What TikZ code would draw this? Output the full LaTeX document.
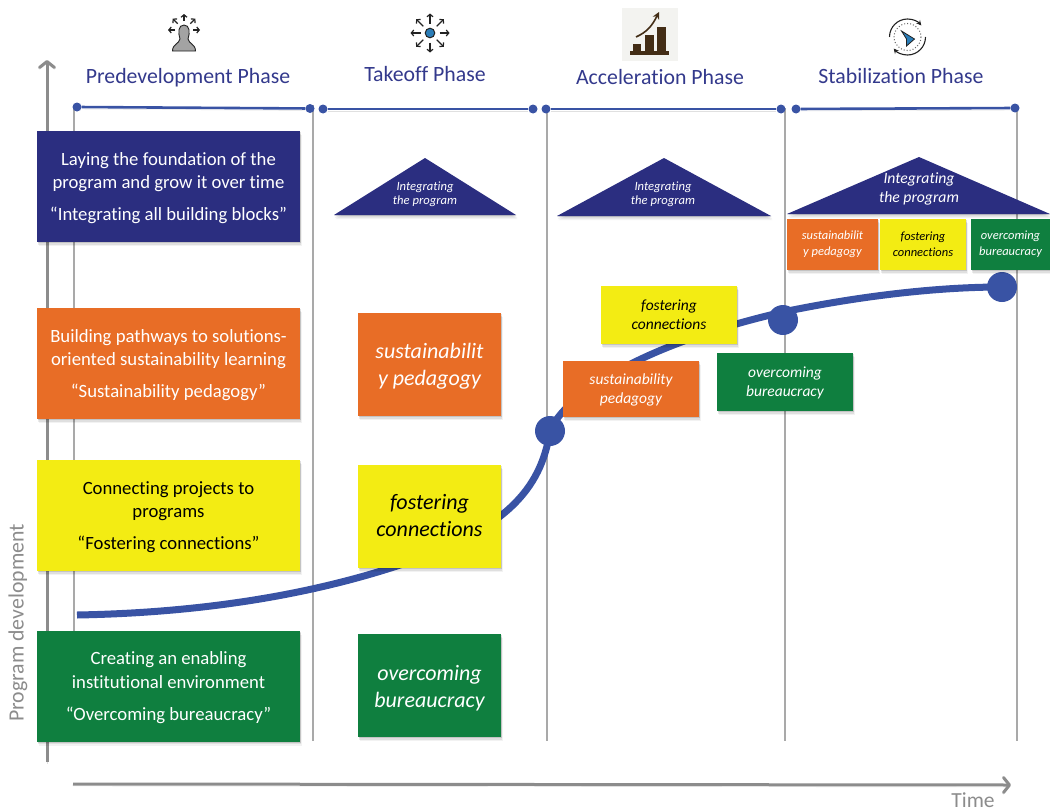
\documentclass[tikz,border=0pt]{standalone}
\usepackage{fontspec}
\setmainfont[Ligatures=CommonOff]{Carlito}
\usetikzlibrary{shadows,arrows.meta}
\definecolor{navy}{HTML}{2B2E80}
\definecolor{orng}{HTML}{E86D26}
\definecolor{yell}{HTML}{F3EC13}
\definecolor{grn}{HTML}{0F7F3F}
\definecolor{blu}{HTML}{3953A4}
\definecolor{phase}{HTML}{33398C}
\definecolor{gry}{HTML}{8C8C8C}
\definecolor{ink}{HTML}{222222}
\definecolor{sky}{HTML}{2A7DB8}
\newcommand\hgt[1]{\rule{0pt}{#1pt}}
\newcommand\dpt[1]{\rule[-#1pt]{0pt}{#1pt}}
\tikzset{
 soft/.style={
   drop shadow={shadow xshift=0.5pt,shadow yshift=-1pt,opacity=.12,fill=black},
   drop shadow={shadow xshift=1pt,shadow yshift=-2.5pt,opacity=.08,fill=black},
   drop shadow={shadow xshift=1.5pt,shadow yshift=-4pt,opacity=.05,fill=black}},
 lineshadow/.style={preaction={draw=black,opacity=.12,transform canvas={yshift=-2pt}}},
 boxbase/.style={rectangle,inner sep=0pt,outer sep=0pt,align=center,soft},
 leftbox/.style={boxbase,minimum width=263pt,minimum height=111pt,font=\fontsize{18.7}{23.5}\selectfont},
 midbox/.style={boxbase,minimum width=143pt,minimum height=103pt,font=\fontsize{22}{27}\selectfont\itshape},
 accbox/.style={boxbase,minimum width=136pt,minimum height=58pt,font=\fontsize{15.5}{19}\selectfont\itshape},
 stabox/.style={boxbase,minimum height=51pt,font=\fontsize{12.5}{16}\selectfont\itshape},
 navybox/.style={fill=navy,text=white},
 orangebox/.style={fill=orng,text=white},
 yellowbox/.style={fill=yell,text=black},
 greenbox/.style={fill=grn,text=white},
 phasetitle/.style={text=phase,font=\fontsize{21.8}{24}\selectfont,inner sep=0pt},
 dot/.style={circle,fill=blu,inner sep=0pt,minimum size=#1},
 guide/.style={draw=gry!75,line width=1.3pt},
 axis/.style={draw=gry,line width=3pt,-{Straight Barb[length=6pt,width=15pt,round]},lineshadow},
 phaseline/.style={draw=blu,line width=2.6pt,lineshadow},
 roof/.style={fill=navy,soft},
 rooftext/.style={text=white,align=center,inner sep=0pt,font=\itshape},
 iconarrow/.style={draw=ink,line width=1.2pt,-{Straight Barb[length=2.5pt,width=6pt]}},
}
\begin{document}
\begin{tikzpicture}[x=1pt,y=-1pt]
\useasboundingbox (0,0) rectangle (1050,811);
% guides
\foreach \n/\x/\a in {g0/74/108,g1/313/105,g2/547/108,g3/785/108,g4/1017/108}{
  \coordinate (\n t) at (\x,\a);
  \coordinate (\n b) at (\x,741);
  \draw[guide] (\n t) -- (\n b);
}
% axes
\coordinate (yfoot) at (47,762); \coordinate (yhead) at (47,60);
\coordinate (xfoot) at (73,784); \coordinate (xhead) at (1011,785);
\draw[axis] (yfoot) -- (yhead);
\draw[axis] (xfoot) -- (xhead);
\node[rotate=90,text=gry,font=\fontsize{21.8}{24}\selectfont,inner sep=0pt] (ylabel) at (18,623) {Program development};
\node[text=gry,font=\fontsize{21.5}{24}\selectfont,inner sep=0pt] (xlabel) at (973,800.5) {Time};
% phase titles
\node[phasetitle] (p1) at (188,77.5) {Predevelopment Phase};
\node[phasetitle] (p2) at (425,74) {Takeoff Phase};
\node[phasetitle] (p3) at (660,77) {Acceleration Phase};
\node[phasetitle] (p4) at (901,76) {Stabilization Phase};
% phase lines
\node[dot=9pt] (a1) at (77,107) {}; \node[dot=9pt] (a2) at (310,108.5) {};
\node[dot=9pt] (b1) at (323,109) {}; \node[dot=9pt] (b2) at (533,109) {};
\node[dot=9pt] (c1) at (546,109) {}; \node[dot=9pt] (c2) at (781,109) {};
\node[dot=9pt] (d1) at (796,109) {}; \node[dot=9pt] (d2) at (1015,108) {};
\draw[phaseline] (a1) -- (a2);
\draw[phaseline] (b1) -- (b2);
\draw[phaseline] (c1) -- (c2);
\draw[phaseline] (d1) -- (d2);
% growth curve
\coordinate (s0) at (77,615);
\coordinate (k2) at (783,312);
\node[dot=30pt] (m1) at (550,431) {};
\node[dot=30pt] (m2) at (783,320) {};
\node[dot=30pt] (m3) at (1002,287) {};
\draw[blu,line width=7pt] (s0) .. controls (190,613) and (300,598) .. (400,565)
   .. controls (505,530) and (541,490) .. (m1.center)
   .. controls (565,395) and (640,345) .. (k2)
   .. controls (850,298) and (930,287) .. (m3.center);
% left boxes
\node[leftbox,navybox] (L1) at (168.5,186.5) {\hgt{16}Laying the foundation of the\\program and grow it over time\\[8pt]“Integrating all building blocks”};
\node[leftbox,orangebox] (L2) at (168.5,363.5) {\hgt{16}Building pathways to solutions-\\oriented sustainability learning\\[8.5pt]“Sustainability pedagogy”};
\node[leftbox,yellowbox] (L3) at (168.5,515.5) {\hgt{16}Connecting projects to\\programs\\[8.5pt]“Fostering connections”};
\node[leftbox,greenbox] (L4) at (168.5,686) {\hgt{16}Creating an enabling\\institutional environment\\[8.5pt]“Overcoming bureaucracy”};
% takeoff boxes
\node[midbox,orangebox] (T1) at (429.5,364.5) {\hgt{20}sustainabilit\\y pedagogy\dpt{6}};
\node[midbox,yellowbox] (T2) at (429.5,516.5) {\hgt{18}fostering\\connections\dpt{6}};
\node[midbox,greenbox] (T3) at (429.5,685.5) {\hgt{22}overcoming\\bureaucracy\dpt{6}};
% acceleration boxes
\node[accbox,orangebox,minimum height=56pt] (A1) at (631,389) {\hgt{13}sustainability\\pedagogy\dpt{4}};
\node[accbox,yellowbox] (A2) at (669,315) {fostering\\connections};
\node[accbox,greenbox] (A3) at (785,382) {\hgt{13}overcoming\\bureaucracy\dpt{4}};
% stabilization boxes
\node[stabox,orangebox,minimum width=91pt] (S1) at (832.5,244.5) {sustainabilit\\y pedagogy};
\node[stabox,yellowbox,minimum width=86pt] (S2) at (923,244.5) {fostering\\connections};
\node[stabox,greenbox,minimum width=79pt] (S3) at (1010.5,244.5) {overcoming\\bureaucracy};
% roofs
\fill[roof] (334,215) -- (425,158) -- (516,215) -- cycle;
\node[rooftext,font=\fontsize{12.6}{14}\selectfont\itshape] (R1) at (425,194) {Integrating\\the program};
\fill[roof] (557,216) -- (664,158) -- (771,216) -- cycle;
\node[rooftext,font=\fontsize{12.6}{14}\selectfont\itshape] (R2) at (663,194) {Integrating\\the program};
\fill[roof] (787,214) -- (919,157) -- (1050,214) -- cycle;
\node[rooftext,font=\fontsize{15.7}{19}\selectfont\itshape] (R3) at (919,189) {Integrating\\the program};
% icon 1: person
\begin{scope}[shift={(184,30)}]
  \fill[gry!80,draw=ink,line width=.9pt] (-11.5,21) .. controls (-11.5,14) and (-5,14) .. (-4,9)
     .. controls (-6,3) and (-6,-5) .. (0,-5) .. controls (6,-5) and (6,3) .. (4,9)
     .. controls (5,14) and (11.5,14) .. (11.5,21) -- cycle;
  \foreach \ang in {0,-45,-90,-135,180}{
    \draw[iconarrow] (\ang:9) -- (\ang:16);
  }
\end{scope}
% icon 2: network
\begin{scope}[shift={(430,33)}]
  \foreach \ang in {0,45,...,315}{
    \draw[iconarrow] (\ang:9.5) -- (\ang:19.5);
  }
  \fill[sky,draw=ink,line width=1pt] (0,0) circle (4.8);
\end{scope}
% icon 3: bar chart picture
\begin{scope}
  \fill[yellow!8!gray!12] (622,8) rectangle (678,61);
  \fill[black!65!brown] (630,51) rectangle (669,55);
  \fill[black!65!brown] (633,44) rectangle (641,51);
  \fill[black!65!brown] (645,35) rectangle (654,51);
  \fill[black!65!brown] (657,27) rectangle (666,51);
  \draw[black!65!brown,line width=1.6pt,-{Stealth[length=7pt,width=7pt]}] (636,37) .. controls (647,32) and (652,26) .. (659,12);
\end{scope}
% icon 4: rotating pointer
\begin{scope}[shift={(907.5,37)}]
  \draw[ink,line width=1.1pt,-{Stealth[length=5pt,width=5pt]}] (180:18) arc[start angle=180,end angle=320,radius=18];
  \draw[ink,line width=1.1pt,-{Stealth[length=5pt,width=5pt]}] (0:18) arc[start angle=0,end angle=140,radius=18];
  \draw[ink!70,line width=1pt,dotted] (0,0) circle (13.5);
  \fill[sky,draw=ink,line width=.8pt] (-6,-6) -- (7,2) -- (-1,9) -- (-1,2) -- cycle;
\end{scope}
\end{tikzpicture}
\end{document}
